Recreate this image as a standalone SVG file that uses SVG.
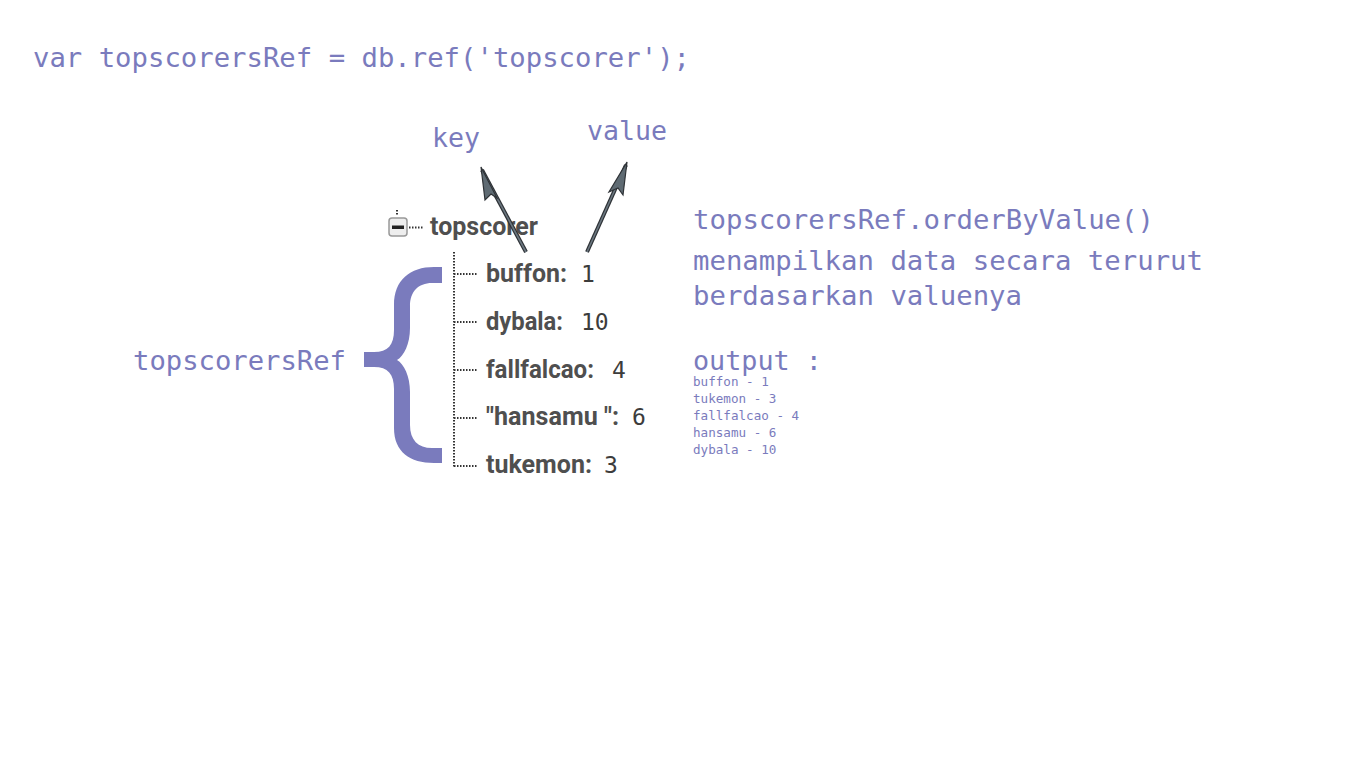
<svg xmlns="http://www.w3.org/2000/svg" width="1366" height="768" viewBox="0 0 1366 768">
<defs>
<style>
.mono{font-family:"DejaVu Sans Mono","Liberation Mono",monospace;fill:#7a7bbd}
.tree{font-family:Roboto,"Liberation Sans",sans-serif;font-weight:bold;fill:#4f4f4f;font-size:25px}
.val{font-family:"DejaVu Sans Mono","Liberation Mono",monospace;fill:#3c3c3c;font-size:23px}
.dot{stroke:#333;stroke-width:2;stroke-dasharray:1.5 1.5;fill:none}
</style>
</defs>
<rect width="1366" height="768" fill="#fff"/>
<g id="code">
<text class="mono" x="33" y="67" font-size="26.6" textLength="657" lengthAdjust="spacingAndGlyphs">var topscorersRef = db.ref('topscorer');</text>
</g>
<g id="labels">
<text class="mono" x="432" y="147" font-size="26.6">key</text>
<text class="mono" x="587" y="140" font-size="26.6">value</text>
<text class="mono" x="133" y="370" font-size="26.6" textLength="213" lengthAdjust="spacingAndGlyphs">topscorersRef</text>
</g>
<g id="description">
<text class="mono" x="693" y="229" font-size="27" textLength="461" lengthAdjust="spacingAndGlyphs">topscorersRef.orderByValue()</text>
<text class="mono" x="693" y="270" font-size="27" textLength="510" lengthAdjust="spacingAndGlyphs">menampilkan data secara terurut</text>
<text class="mono" x="693" y="305" font-size="27" textLength="329" lengthAdjust="spacingAndGlyphs">berdasarkan valuenya</text>
<text class="mono" x="693" y="370" font-size="27" textLength="129" lengthAdjust="spacingAndGlyphs">output :</text>
</g>
<g id="output" class="mono" font-size="12.6">
<text x="693" y="386">buffon - 1</text>
<text x="693" y="403">tukemon - 3</text>
<text x="693" y="420">fallfalcao - 4</text>
<text x="693" y="437">hansamu - 6</text>
<text x="693" y="454">dybala - 10</text>
</g>
<g id="tree">
<rect x="389" y="218" width="18" height="18" rx="3" fill="#eee" stroke="#999" stroke-width="1.5"/>
<rect x="392" y="225.5" width="12" height="3.5" fill="#222"/>
<path class="dot" d="M397 210 V216 M409 227.5 H424 M454 252 V468 M454 274 H478 M454 322 H478 M454 370 H478 M454 418 H478 M454 466 H478"/>
<text class="tree" x="430" y="235" textLength="108" lengthAdjust="spacingAndGlyphs">topscorer</text>
<text class="tree" x="486" y="282" textLength="81" lengthAdjust="spacingAndGlyphs">buffon:</text><text class="val" x="581" y="282">1</text>
<text class="tree" x="486" y="330" textLength="77" lengthAdjust="spacingAndGlyphs">dybala:</text><text class="val" x="581" y="330">10</text>
<text class="tree" x="486" y="378" textLength="108" lengthAdjust="spacingAndGlyphs">fallfalcao:</text><text class="val" x="612" y="378">4</text>
<text class="tree" x="486" y="425" textLength="133" lengthAdjust="spacingAndGlyphs">"hansamu ":</text><text class="val" x="632" y="425">6</text>
<text class="tree" x="486" y="473" textLength="106" lengthAdjust="spacingAndGlyphs">tukemon:</text><text class="val" x="604" y="473">3</text>
</g>
<g id="brace">
<path d="M442 267 L434 267 C410 267 394 280 394 305 L394 330 C394 345 388 352 374 352 L364 352 L364 367 L374 367 C388 367 394 374 394 389 L394 428 C394 452 410 463 434 463 L442 463 L442 448 L432 448 C418 448 410 440 410 425 L410 392 C410 376 404 364 397 360 C404 356 410 344 410 328 L410 306 C410 292 418 283 432 283 L442 283 Z" fill="#7a7bbd"/>
</g>
<g id="connectors">
<line x1="526" y1="252" x2="482" y2="170" stroke="#2e3236" stroke-width="4"/>
<line x1="526" y1="252" x2="482" y2="170" stroke="#6b7780" stroke-width="1.6"/>
<line x1="587" y1="252" x2="626" y2="165" stroke="#2e3236" stroke-width="4"/>
<line x1="587" y1="252" x2="626" y2="165" stroke="#6b7780" stroke-width="1.6"/>
<path d="M481 167 L497 198 L491 194 L485 200 Z" fill="#5f6b73" stroke="#2e3236" stroke-width="1.2"/>
<path d="M627 162 L623 195 L618 188 L609 192 Z" fill="#5f6b73" stroke="#2e3236" stroke-width="1.2"/>
</g>
</svg>
